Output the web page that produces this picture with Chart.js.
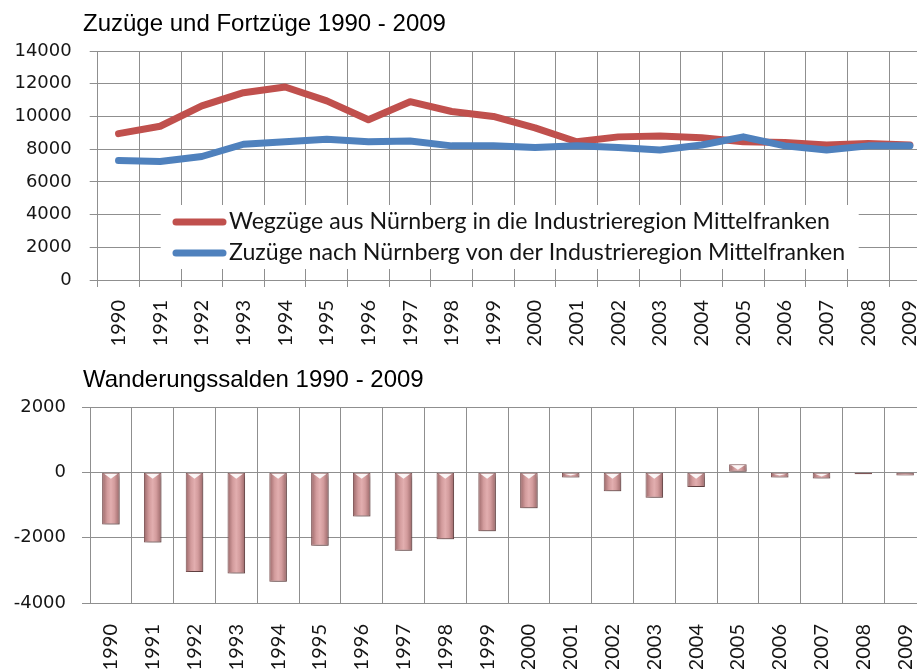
<!DOCTYPE html>
<html lang="de">
<head>
<meta charset="utf-8">
<script src="https://cdn.jsdelivr.net/npm/chart.js@4.4.1/dist/chart.umd.min.js"></script>
<style>
    html, body { margin: 0; padding: 0; width: 917px; height: 669px; overflow: hidden; background: #fff; }
    .titel { position: absolute; left: 83px; font-family: "Liberation Sans", Arial, sans-serif; font-size: 24px; line-height: 24px; color: #000; white-space: nowrap; }
    canvas { position: absolute; left: 0; }
</style>
</head>
<body>
<canvas id="wanderungen" width="935" height="360" style="top:0"></canvas>
<canvas id="salden" width="935" height="329" style="top:340px"></canvas>
<div class="titel" style="top:11px">Zuzüge und Fortzüge 1990 - 2009</div>
<div class="titel" style="top:367px">Wanderungssalden 1990 - 2009</div>
<script>
// Jahre (Kategorien)
const jahre = ['1990', '1991', '1992', '1993', '1994', '1995', '1996', '1997', '1998', '1999',
    '2000', '2001', '2002', '2003', '2004', '2005', '2006', '2007', '2008', '2009'];

// Wegzüge aus Nürnberg in die Industrieregion
const wegzuege = [8950, 9400, 10650, 11450, 11800, 10950, 9800, 10900, 10300, 10000,
    9300, 8450, 8750, 8800, 8700, 8450, 8400, 8250, 8350, 8250];

// Zuzüge nach Nürnberg aus der Industrieregion
const zuzuege = [7300, 7250, 7550, 8300, 8450, 8600, 8450, 8500, 8200, 8200,
    8100, 8200, 8100, 7950, 8250, 8750, 8200, 7950, 8200, 8200];

// Wanderungssalden
const salden = [-1600, -2150, -3050, -3100, -3350, -2250, -1350, -2400, -2050, -1800,
    -1100, -160, -580, -780, -450, 250, -160, -190, -60, -100];

// Legendentexte
const legendeTexte = [
    'Wegzüge aus Nürnberg in die Industrieregion Mittelfranken',
    'Zuzüge nach Nürnberg von der Industrieregion Mittelfranken'
];

const rot = '#C0504D';
const blau = '#4F81BD';
const gitter = '#8f8f8f';
const schrift = '#151515';

// x-Achse: feste Höhe, kein Zusatzrand für gedrehte Beschriftung
const xAchseFit = (hoehe) => (s) => {
    s.height = hoehe;
    s.paddingLeft = 0;
    s.paddingRight = 0;
};

// Legende im Diagramm (weißer Kasten über dem Gitter)
const legendeBox = {
    id: 'legendeBox',
    afterDatasetsDraw(chart) {
        const c = chart.ctx;
        const a = chart.chartArea;
        c.save();
        c.fillStyle = '#fff';
        c.fillRect(a.left + 63, 205, 698, 64);

        // Schriftgröße so wählen, dass die Breite passt
        let size = 21;
        c.font = size + 'px Lato';
        size = size * 601 / c.measureText(legendeTexte[0]).width;
        c.font = size.toFixed(2) + 'px Lato';

        const farben = [rot, blau];
        const zeilen = [222, 253];
        farben.forEach((farbe, i) => {
            c.strokeStyle = farbe;
            c.lineWidth = 7;
            c.lineCap = 'round';
            c.beginPath();
            c.moveTo(176, zeilen[i]);
            c.lineTo(223, zeilen[i]);
            c.stroke();
            c.fillStyle = schrift;
            c.textBaseline = 'alphabetic';
            c.fillText(legendeTexte[i], 229, zeilen[i] + 6.5);
        });
        c.restore();
    }
};

new Chart(document.getElementById('wanderungen'), {
    type: 'line',
    data: {
        labels: jahre,
        datasets: [{
            label: legendeTexte[0],
            data: wegzuege,
            borderColor: rot,
            order: 2
        }, {
            label: legendeTexte[1],
            data: zuzuege,
            borderColor: blau,
            order: 1
        }]
    },
    options: {
        responsive: false,
        animation: false,
        layout: { padding: { top: 51, right: 4.3, left: 0, bottom: 0 } },
        elements: {
            line: { borderWidth: 7, tension: 0, borderCapStyle: 'round', borderJoinStyle: 'round' },
            point: { radius: 0, hoverRadius: 0 }
        },
        plugins: {
            legend: { display: false },
            tooltip: { enabled: false }
        },
        scales: {
            x: {
                offset: true,
                grid: { offset: true, color: gitter, tickLength: 7 },
                border: { color: gitter },
                ticks: { autoSkip: false, minRotation: 90, maxRotation: 90, padding: 13,
                    font: { family: 'Lato', size: 20 }, color: schrift },
                afterFit: xAchseFit(80)
            },
            y: {
                min: 0,
                max: 14000,
                grid: { color: gitter, tickLength: 8 },
                border: { color: gitter },
                ticks: { stepSize: 2000, padding: 18, font: { family: 'DejaVu Sans', size: 18 },
                    color: schrift, callback: (v) => String(v) },
                afterFit: (s) => { s.width = 97.7; }
            }
        }
    },
    plugins: [legendeBox]
});

// Farbverlauf für die Balken (quer über den Balken)
const balkenVerlauf = (ctx) => {
    const chart = ctx.chart;
    const x = chart.scales.x;
    if (!chart.chartArea || !x || ctx.dataIndex === undefined) return '#d9a2a3';
    const mitte = x.getPixelForValue(ctx.dataIndex);
    const breite = x.width / jahre.length * 0.42;
    const g = chart.ctx.createLinearGradient(mitte - breite / 2, 0, mitte + breite / 2, 0);
    g.addColorStop(0, '#9a6768');
    g.addColorStop(0.3, '#d39c9d');
    g.addColorStop(0.5, '#e2aeaf');
    g.addColorStop(0.7, '#d39c9d');
    g.addColorStop(1, '#9a6768');
    return g;
};

// Schatten und heller Glanz oben an den Balken
const balkenEffekt = {
    id: 'balkenEffekt',
    beforeDatasetsDraw(chart) {
        const c = chart.ctx;
        c.save();
        c.shadowColor = 'rgba(0,0,0,0.3)';
        c.shadowBlur = 4;
        c.shadowOffsetX = 2;
        c.shadowOffsetY = 3;
    },
    afterDatasetsDraw(chart) {
        const c = chart.ctx;
        c.restore();
        c.save();
        c.fillStyle = 'rgba(255,255,255,0.9)';
        chart.getDatasetMeta(0).data.forEach((bar) => {
            const oben = Math.min(bar.y, bar.base);
            const hoehe = Math.abs(bar.y - bar.base);
            if (hoehe < 3) return;
            const w = bar.width / 2 - 2;
            c.beginPath();
            c.moveTo(bar.x - w, oben + 1);
            c.lineTo(bar.x + w, oben + 1);
            c.lineTo(bar.x, oben + Math.min(6, hoehe - 2));
            c.closePath();
            c.fill();
        });
        c.restore();
    }
};

new Chart(document.getElementById('salden'), {
    type: 'bar',
    data: {
        labels: jahre,
        datasets: [{
            label: 'Wanderungssaldo',
            data: salden,
            backgroundColor: balkenVerlauf,
            borderColor: '#805556',
            borderWidth: 1,
            borderSkipped: false,
            barPercentage: 0.42,
            categoryPercentage: 1
        }]
    },
    options: {
        responsive: false,
        animation: false,
        layout: { padding: { top: 67, right: 9, left: 0, bottom: 0 } },
        plugins: {
            legend: { display: false },
            tooltip: { enabled: false }
        },
        scales: {
            x: {
                grid: { offset: true, color: gitter, drawTicks: false },
                border: { color: gitter },
                ticks: { autoSkip: false, minRotation: 90, maxRotation: 90, padding: 21,
                    font: { family: 'Lato', size: 20 }, color: schrift },
                afterFit: xAchseFit(66)
            },
            y: {
                min: -4000,
                max: 2000,
                grid: { color: gitter, tickLength: 8 },
                border: { color: gitter },
                ticks: { stepSize: 2000, padding: 16, font: { family: 'DejaVu Sans', size: 18 },
                    color: schrift, callback: (v) => String(v) },
                afterFit: (s) => { s.width = 90; }
            }
        }
    },
    plugins: [balkenEffekt]
});
</script>
</body>
</html>
